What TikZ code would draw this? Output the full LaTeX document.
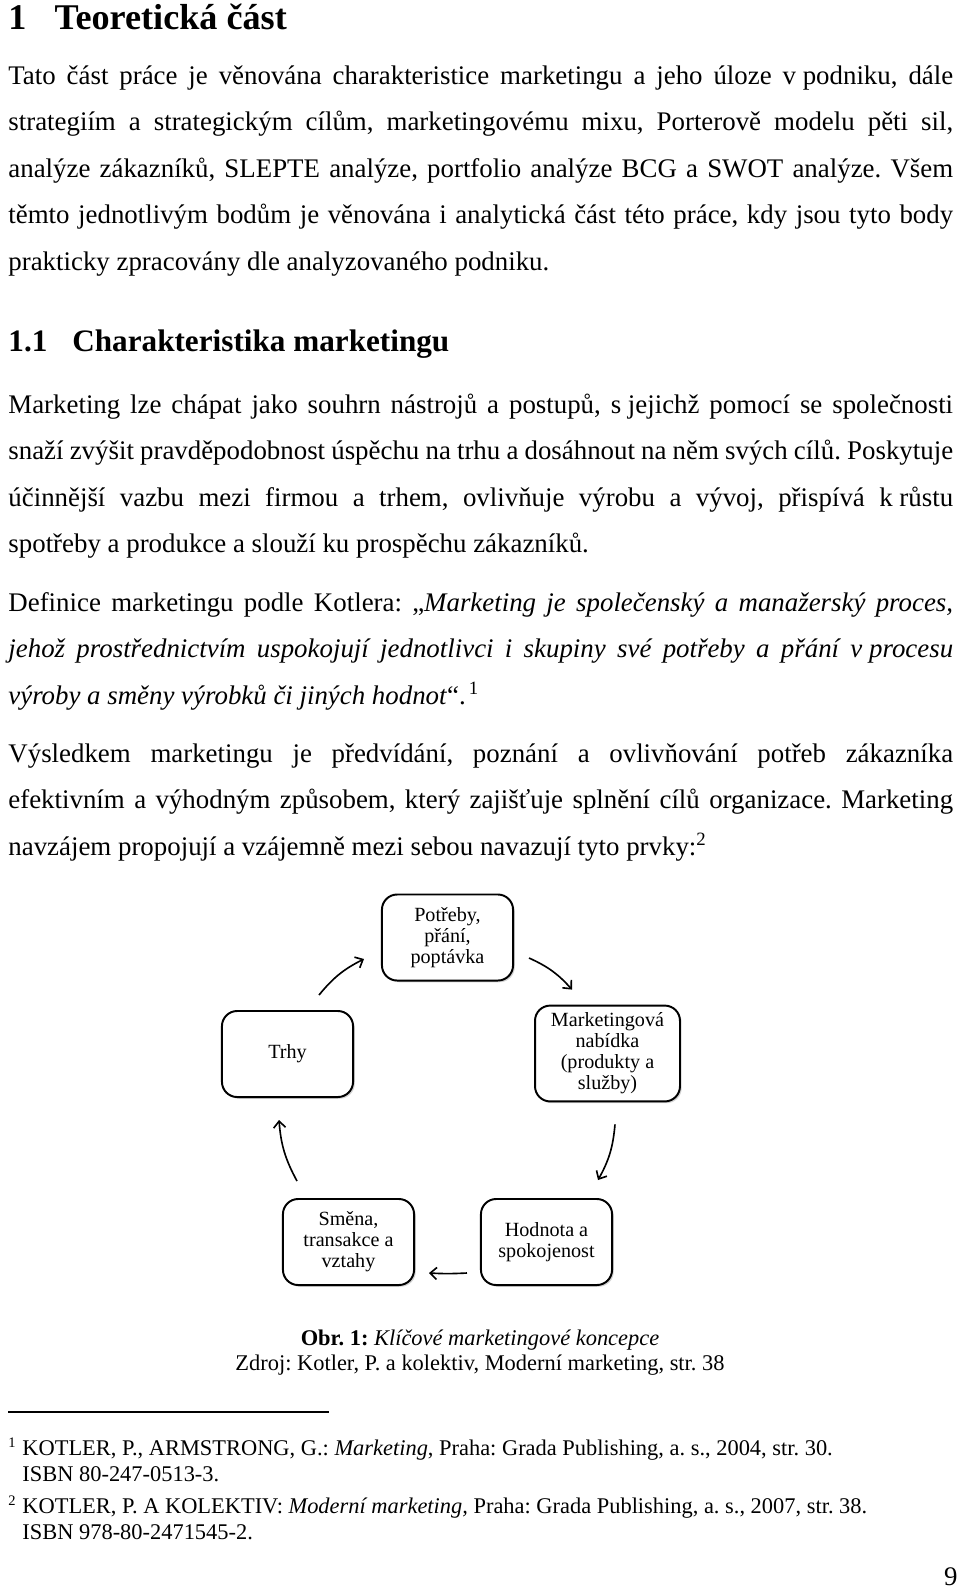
\documentclass[tikz,border=0pt]{standalone}
\usepackage{fontspec}
\setmainfont{Liberation Serif}
\usetikzlibrary{arrows.meta,shadows}
\frenchspacing
\newcommand\jl[1]{\makebox[436pt][s]{#1}}
\newcommand\nbs{\kern0.25em}

\begin{document}
\begin{tikzpicture}[x=0.461538pt,y=-0.461538pt,
        txt/.style={anchor=base west,inner sep=0pt,font=\fontsize{12.4}{14}\selectfont},
        head/.style={anchor=base west,inner sep=0pt,font=\fontsize{16.7}{18}\selectfont\bfseries},
        subhead/.style={anchor=base west,inner sep=0pt,font=\fontsize{14.4}{16}\selectfont\bfseries},
        note/.style={anchor=base west,inner sep=0pt,font=\fontsize{10.35}{12}\selectfont},
        notemark/.style={anchor=base west,inner sep=0pt,font=\fontsize{6.7}{7}\selectfont},
        concept/.style={draw,rounded corners=7pt,line width=0.9pt,align=center,fill=white,
            font=\fontsize{9.3}{9.7}\selectfont,minimum width=60.5pt,minimum height=39.7pt,
            drop shadow={shadow xshift=0.8pt,shadow yshift=-0.8pt,opacity=0.35}},
        cyc/.style={-{Straight Barb[length=3pt,width=5.5pt]},line width=0.75pt}]
        \useasboundingbox (0,0) rectangle (960,1590);

        \node[head] (kapitola) at (8,29) {1\hspace{13pt}Teoretická část};

        \node[txt] (pa1) at (8,84) {\jl{Tato část práce je věnována charakteristice marketingu a jeho úloze v\nbs podniku, dále}};
        \node[txt] (pa2) at (8,130.5) {\jl{strategiím a strategickým cílům, marketingovému mixu, Porterově modelu pěti sil,}};
        \node[txt] (pa3) at (8,177) {\jl{analýze zákazníků, SLEPTE analýze, portfolio analýze BCG a SWOT analýze. Všem}};
        \node[txt] (pa4) at (8,223.5) {\jl{těmto jednotlivým bodům je věnována i analytická část této práce, kdy jsou tyto body}};
        \node[txt] (pa5) at (8,270) {prakticky zpracovány dle analyzovaného podniku.};

        \node[subhead] (podkapitola) at (8,351) {1.1\hspace{11.5pt}Charakteristika marketingu};

        \node[txt] (pb1) at (8,413) {\jl{Marketing lze chápat jako souhrn nástrojů a postupů, s\nbs jejichž pomocí se společnosti}};
        \node[txt] (pb2) at (8,459.5) {\jl{snaží zvýšit pravděpodobnost úspěchu na trhu a dosáhnout na něm svých cílů. Poskytuje}};
        \node[txt] (pb3) at (8,506) {\jl{účinnější vazbu mezi firmou a trhem, ovlivňuje výrobu a vývoj, přispívá k\nbs růstu}};
        \node[txt] (pb4) at (8,552.5) {spotřeby a produkce a slouží ku prospěchu zákazníků.};

        \node[txt] (pc1) at (8,611) {\jl{Definice marketingu podle Kotlera: „\textit{Marketing je společenský a manažerský proces,}}};
        \node[txt] (pc2) at (8,657.5) {\jl{\itshape jehož prostřednictvím uspokojují jednotlivci i skupiny své potřeby a přání v\nbs procesu}};
        \node[txt] (pc3) at (8,704) {\textit{výroby a směny výrobků či jiných hodnot}“.\textsuperscript{\,1}};

        \node[txt] (pd1) at (8,762) {\jl{Výsledkem marketingu je předvídání, poznání a ovlivňování potřeb zákazníka}};
        \node[txt] (pd2) at (8,808.5) {\jl{efektivním a výhodným způsobem, který zajišťuje splnění cílů organizace. Marketing}};
        \node[txt] (pd3) at (8,855) {navzájem propojují a vzájemně mezi sebou navazují tyto prvky:\textsuperscript{2}};

        \node[concept] (potreby) at (447.5,937.5) {Potřeby,\\přání,\\poptávka};
        \node[concept] (trhy) at (287.5,1054) {Trhy};
        \node[concept,minimum width=66.9pt,minimum height=42.9pt] (nabidka) at (607.5,1053.5) {Marketingová\\nabídka\\(produkty a\\služby)};
        \node[concept] (smena) at (348.5,1242) {Směna,\\transakce a\\vztahy};
        \node[concept] (hodnota) at (546.5,1242) {Hodnota a\\spokojenost};

        \draw[cyc] ([shift={(31.5,-15)}]trhy.north) to[bend left=12] ([shift={(-17,21.5)}]potreby.west);
        \draw[cyc] ([shift={(15,20.5)}]potreby.east) to[bend left=12] ([shift={(-35.5,-15)}]nabidka.north);
        \draw[cyc] ([shift={(7.5,22)}]nabidka.south) to[bend left=12] ([shift={(51.5,-18)}]hodnota.north);
        \draw[cyc] ([shift={(-13,31)}]hodnota.west) to[bend left=3] ([shift={(14,31)}]smena.east);
        \draw[cyc] ([shift={(-51.5,-17)}]smena.north) to[bend left=12] ([shift={(-8.5,22)}]trhy.south);

        \node[note,anchor=base] (popisek) at (480,1345) {\textbf{Obr. 1:} \textit{Klíčové marketingové koncepce}};
        \node[note,anchor=base] (zdroj) at (480,1370) {Zdroj: Kotler, P. a kolektiv, Moderní marketing, str. 38};

        \draw[line width=0.5pt] (8,1412) -- (329,1412);

        \node[notemark] (znacka1) at (8,1447) {1};
        \node[note] (pozn1a) at (22,1455) {KOTLER, P., ARMSTRONG, G.: \textit{Marketing}, Praha: Grada Publishing, a. s., 2004, str. 30.};
        \node[note] (pozn1b) at (22,1481) {ISBN 80-247-0513-3.};
        \node[notemark] (znacka2) at (8,1505) {2};
        \node[note] (pozn2a) at (22,1513) {KOTLER, P. A KOLEKTIV: \textit{Moderní marketing,} Praha: Grada Publishing, a. s., 2007, str. 38.};
        \node[note] (pozn2b) at (22,1539) {ISBN 978-80-2471545-2.};

        \node[txt,anchor=base east] (strana) at (958,1585) {9};
    \end{tikzpicture}
\end{document}
